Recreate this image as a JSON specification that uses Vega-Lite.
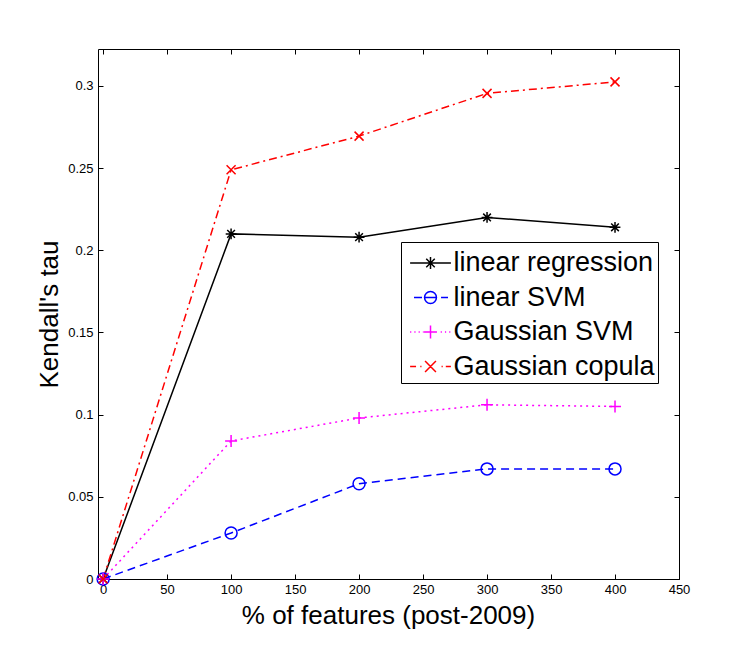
{
  "$schema": "https://vega.github.io/schema/vega-lite/v6.json",
  "width": 581,
  "height": 530,
  "autosize": {"type": "none"},
  "padding": {"left": 98, "top": 49, "right": 71, "bottom": 71},
  "background": "white",
  "config": {
    "font": "Liberation Sans",
    "view": {"stroke": "black", "strokeWidth": 1},
    "axis": {
      "grid": false,
      "domain": false,
      "tickColor": "black",
      "tickSize": -5,
      "tickWidth": 1,
      "labelColor": "black",
      "labelFontSize": 13,
      "labelFlush": false,
      "labelOverlap": false,
      "titleColor": "black",
      "titleFontSize": 26,
      "titleFontWeight": "normal"
    }
  },
  "data": {
    "values": [
      {"features": 0, "tau": 0, "method": "linear regression"},
      {"features": 100, "tau": 0.21, "method": "linear regression"},
      {"features": 200, "tau": 0.208, "method": "linear regression"},
      {"features": 300, "tau": 0.22, "method": "linear regression"},
      {"features": 400, "tau": 0.214, "method": "linear regression"},
      {"features": 0, "tau": 0, "method": "linear SVM"},
      {"features": 100, "tau": 0.028, "method": "linear SVM"},
      {"features": 200, "tau": 0.058, "method": "linear SVM"},
      {"features": 300, "tau": 0.067, "method": "linear SVM"},
      {"features": 400, "tau": 0.067, "method": "linear SVM"},
      {"features": 0, "tau": 0, "method": "Gaussian SVM"},
      {"features": 100, "tau": 0.084, "method": "Gaussian SVM"},
      {"features": 200, "tau": 0.098, "method": "Gaussian SVM"},
      {"features": 300, "tau": 0.106, "method": "Gaussian SVM"},
      {"features": 400, "tau": 0.105, "method": "Gaussian SVM"},
      {"features": 0, "tau": 0, "method": "Gaussian copula"},
      {"features": 100, "tau": 0.249, "method": "Gaussian copula"},
      {"features": 200, "tau": 0.2695, "method": "Gaussian copula"},
      {"features": 300, "tau": 0.2955, "method": "Gaussian copula"},
      {"features": 400, "tau": 0.3025, "method": "Gaussian copula"}
    ]
  },
  "encoding": {
    "x": {
      "field": "features",
      "type": "quantitative",
      "scale": {"domain": [-4, 450], "nice": false, "zero": false},
      "axis": null
    },
    "y": {
      "field": "tau",
      "type": "quantitative",
      "scale": {"domain": [0, 0.3225], "nice": false},
      "axis": null
    },
    "color": {
      "field": "method",
      "type": "nominal",
      "scale": {
        "domain": ["linear regression", "linear SVM", "Gaussian SVM", "Gaussian copula"],
        "range": ["#000000", "#0000ff", "#ff00ff", "#ff0000"]
      },
      "legend": {
        "title": null,
        "orient": "none",
        "legendX": 303,
        "legendY": 193,
        "direction": "vertical",
        "strokeColor": "black",
        "fillColor": "white",
        "padding": 3,
        "cornerRadius": 0,
        "rowPadding": 3.5,
        "symbolSize": 1156,
        "symbolOffset": 8.5,
        "symbolStrokeWidth": 1.5,
        "labelOffset": 5,
        "labelFontSize": 27,
        "labelColor": "black",
        "labelLimit": 400
      }
    }
  },
  "layer": [
    {
      "transform": [{"filter": "datum.method == 'linear regression'"}],
      "mark": {"type": "line", "strokeWidth": 1.5, "clip": false},
      "encoding": {
        "x": {
          "field": "features",
          "type": "quantitative",
          "axis": {
            "orient": "bottom",
            "values": [0, 50, 100, 150, 200, 250, 300, 350, 400, 450],
            "labelPadding": 9,
            "title": "% of features (post-2009)",
            "titleX": 290,
            "titleY": 44,
            "titleAlign": "center",
            "titleBaseline": "alphabetic"
          }
        },
        "y": {
          "field": "tau",
          "type": "quantitative",
          "axis": {
            "orient": "left",
            "values": [0, 0.05, 0.1, 0.15, 0.2, 0.25, 0.3],
            "format": "~g",
            "labelPadding": 10,
            "title": "Kendall's tau",
            "titleX": -41,
            "titleY": 265,
            "titleAngle": 270,
            "titleAlign": "center",
            "titleBaseline": "alphabetic"
          }
        }
      }
    },
    {
      "transform": [{"filter": "datum.method == 'linear SVM'"}],
      "mark": {"type": "line", "strokeWidth": 1.5, "strokeDash": [8, 5], "clip": false}
    },
    {
      "transform": [{"filter": "datum.method == 'Gaussian SVM'"}],
      "mark": {"type": "line", "strokeWidth": 1.5, "strokeDash": [2, 4], "clip": false}
    },
    {
      "transform": [{"filter": "datum.method == 'Gaussian copula'"}],
      "mark": {"type": "line", "strokeWidth": 1.5, "strokeDash": [8, 4, 2, 4], "clip": false}
    },
    {
      "transform": [{"filter": "datum.method == 'linear regression'"}],
      "mark": {"type": "point", "filled": false, "size": 144, "strokeWidth": 1.5, "opacity": 1, "clip": false,
               "shape": "M0,-0.9L0,0.9M-0.9,0L0.9,0M-0.64,-0.64L0.64,0.64M-0.64,0.64L0.64,-0.64"},
      "encoding": {
        "x": {
          "field": "features",
          "type": "quantitative",
          "axis": {
            "orient": "top",
            "values": [0, 50, 100, 150, 200, 250, 300, 350, 400, 450],
            "labels": false,
            "title": null
          }
        },
        "y": {
          "field": "tau",
          "type": "quantitative",
          "axis": {
            "orient": "right",
            "values": [0, 0.05, 0.1, 0.15, 0.2, 0.25, 0.3],
            "labels": false,
            "title": null
          }
        }
      }
    },
    {
      "transform": [{"filter": "datum.method == 'linear SVM'"}],
      "mark": {"type": "point", "filled": false, "size": 144, "strokeWidth": 1.5, "opacity": 1, "clip": false,
               "shape": "M1,0A1,1 0 1,1 -1,0A1,1 0 1,1 1,0"}
    },
    {
      "transform": [{"filter": "datum.method == 'Gaussian SVM'"}],
      "mark": {"type": "point", "filled": false, "size": 144, "strokeWidth": 1.5, "opacity": 1, "clip": false,
               "shape": "M-1,0L1,0M0,-1L0,1"}
    },
    {
      "transform": [{"filter": "datum.method == 'Gaussian copula'"}],
      "mark": {"type": "point", "filled": false, "size": 144, "strokeWidth": 1.5, "opacity": 1, "clip": false,
               "shape": "M-0.75,-0.75L0.75,0.75M-0.75,0.75L0.75,-0.75"}
    },
    {
      "transform": [{"filter": "datum.features < -100"}],
      "mark": {"type": "point", "filled": false, "strokeWidth": 1.5, "opacity": 1},
      "encoding": {
        "shape": {
          "field": "method",
          "type": "nominal",
          "scale": {
            "domain": ["linear regression", "linear SVM", "Gaussian SVM", "Gaussian copula"],
            "range": [
              "M-1.2,0L1.2,0M0,-0.35L0,0.35M-0.35,0L0.35,0M-0.25,-0.25L0.25,0.25M-0.25,0.25L0.25,-0.25",
              "M-0.97,0L-0.5,0M-0.35,0L0.35,0M0.62,0L1.03,0M0.35,0A0.35,0.35 0 1,1 -0.35,0A0.35,0.35 0 1,1 0.35,0",
              "M-1.2,0L-1.13,0M-0.95,0L-0.88,0M-0.7,0L-0.63,0M-0.45,0L-0.4,0M0.6,0L0.67,0M0.85,0L0.92,0M1.1,0L1.17,0M-0.38,0L0.38,0M0,-0.38L0,0.38",
              "M-1.2,0L-0.85,0M-0.6,0L-0.53,0M-0.32,-0.32L0.32,0.32M-0.32,0.32L0.32,-0.32M0.65,0L0.72,0M0.9,0L1.2,0"
            ]
          }
        }
      }
    }
  ],
  "resolve": {"axis": {"x": "independent", "y": "independent"}}
}
